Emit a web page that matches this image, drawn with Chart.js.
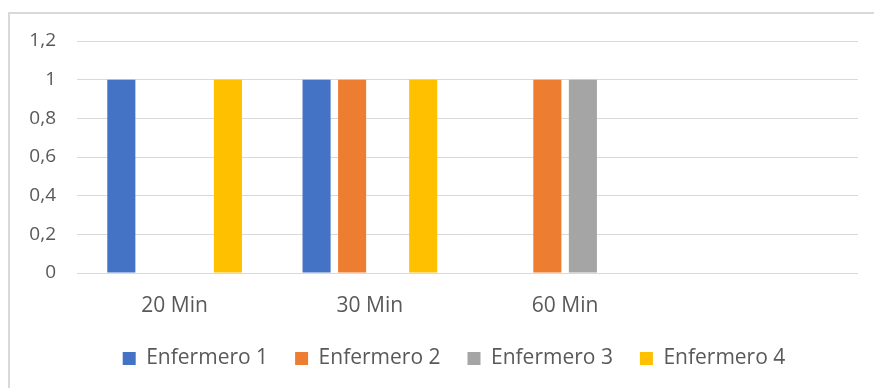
<html>
    <head>
        <script src="https://cdn.jsdelivr.net/npm/chart.js@4"></script>
        <style>
            body { margin: 0; background: #ffffff; }
            #frame { position: absolute; left: 8px; top: 12px; width: 900px; height: 400px;
                     border-top: 2px solid #d9d9d9; border-left: 2px solid #d9d9d9; }
            #wrap { position: absolute; left: 0; top: 0; width: 874px; height: 388px; }
        </style>
        <script>
            var categories = ["20 Min", "30 Min", "60 Min", ""];
            var enfermero1 = [1, 1, 0, 0];
            var enfermero2 = [0, 1, 1, 0];
            var enfermero3 = [0, 0, 1, 0];
            var enfermero4 = [1, 1, 0, 0];
            var yTickLabels = ["0", "0,2", "0,4", "0,6", "0,8", "1", "1,2"];

            var textColor = "#595959";
            var gridColor = "#d9d9d9";
            var fontFamily = "'Open Sans', 'Liberation Sans', sans-serif";

            // the legend in the picture sits a bit right of the plot centre
            var legendShift = {
                id: 'legendShift',
                afterLayout: function(chart) { chart.legend.left += 50; }
            };

            function doLoading()
            {
                var ctx = document.getElementById('chartCanvas').getContext('2d');
                var chart = new Chart(ctx,
                    {
                        type: 'bar',
                        data: {
                            labels: categories,
                            datasets: [
                                { label: 'Enfermero 1', backgroundColor: '#4472c4', data: enfermero1 },
                                { label: 'Enfermero 2', backgroundColor: '#ed7d31', data: enfermero2 },
                                { label: 'Enfermero 3', backgroundColor: '#a5a5a5', data: enfermero3 },
                                { label: 'Enfermero 4', backgroundColor: '#ffc000', data: enfermero4 }
                            ]
                        },
                        plugins: [legendShift],
                        options: {
                            responsive: false,
                            animation: false,
                            datasets: { bar: { categoryPercentage: 0.728, barPercentage: 0.79 } },
                            layout: { padding: { left: 0, right: 16, top: 41, bottom: 9 } },
                            plugins: {
                                tooltip: { enabled: false },
                                legend: {
                                    position: 'bottom',
                                    labels: {
                                        boxWidth: 13, boxHeight: 13, padding: 27,
                                        color: textColor,
                                        font: { family: fontFamily, size: 21 }
                                    }
                                }
                            },
                            scales: {
                                x: {
                                    grid: { display: false, drawTicks: false },
                                    border: { display: false },
                                    ticks: { color: textColor, padding: 20, maxRotation: 0,
                                             font: { family: fontFamily, size: 21 } },
                                    afterFit: function(scale) { scale.height = 48; }
                                },
                                y: {
                                    min: 0, max: 1.2,
                                    grid: { color: gridColor, lineWidth: 1, drawTicks: false },
                                    border: { display: false },
                                    ticks: {
                                        stepSize: 0.2, padding: 21, color: textColor,
                                        font: { family: fontFamily, size: 19 },
                                        callback: function(v, i) { return yTickLabels[i]; }
                                    },
                                    afterFit: function(scale) { scale.width = 77; }
                                }
                            }
                        }
                    }
                );
            }
        </script>
    </head>
    <body onload="doLoading()">
        <div id="frame"></div>
        <div id="wrap"><canvas id="chartCanvas" width="874" height="388"></canvas></div>
    </body>
</html>
